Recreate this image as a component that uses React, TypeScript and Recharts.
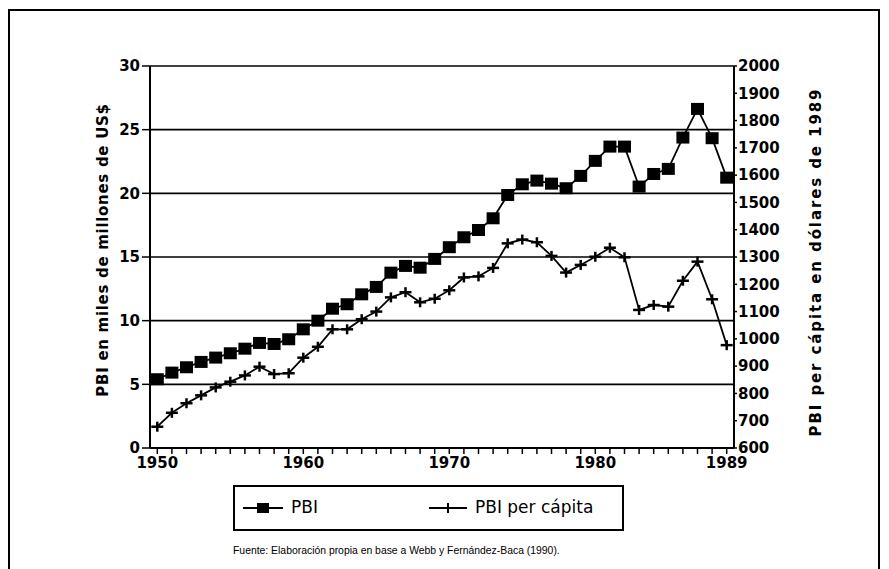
import React from 'react';
import { LineChart, Line, XAxis, YAxis, CartesianGrid } from 'recharts';

// years of the series
const years = [
  1950, 1951, 1952, 1953, 1954, 1955, 1956, 1957, 1958, 1959,
  1960, 1961, 1962, 1963, 1964, 1965, 1966, 1967, 1968, 1969,
  1970, 1971, 1972, 1973, 1974, 1975, 1976, 1977, 1978, 1979,
  1980, 1981, 1982, 1983, 1984, 1985, 1986, 1987, 1988, 1989,
];

// PBI, miles de millones de US$
const pbi = [
  5.4, 5.92, 6.34, 6.76, 7.1, 7.44, 7.8, 8.25, 8.17, 8.54,
  9.32, 10.0, 10.94, 11.29, 12.07, 12.65, 13.77, 14.3, 14.16, 14.85,
  15.77, 16.55, 17.12, 18.04, 19.87, 20.71, 21.0, 20.76, 20.4, 21.37,
  22.55, 23.67, 23.67, 20.53, 21.52, 21.92, 24.38, 26.63, 24.33, 21.23,
];

// PBI per capita, dolares de 1989
const perCapita = [
  678, 729, 764, 793, 822, 843, 866, 898, 871, 874,
  931, 971, 1035, 1035, 1072, 1100, 1152, 1171, 1134, 1147,
  1178, 1225, 1229, 1260, 1350, 1364, 1354, 1304, 1243, 1271,
  1301, 1334, 1299, 1106, 1124, 1118, 1213, 1283, 1145, 977,
];

const labelYears = [1950, 1960, 1970, 1980, 1989];
const leftTicks = [0, 5, 10, 15, 20, 25, 30];
const rightTicks = [600, 700, 800, 900, 1000, 1100, 1200, 1300, 1400, 1500, 1600, 1700, 1800, 1900, 2000];

const data = years.map((year, i) => ({ year, pbi: pbi[i], perCapita: perCapita[i] }));

const tickFont = { fontFamily: 'DejaVu Sans', fontWeight: 'bold', fontSize: 15, fill: '#000' };
const leftTitleFont = { fontFamily: 'DejaVu Sans', fontWeight: 'bold', fontSize: 15, fill: '#000', letterSpacing: 0.7 };
const rightTitleFont = { fontFamily: 'DejaVu Sans', fontWeight: 'bold', fontSize: 15, fill: '#000', letterSpacing: 1.9 };

const SquareDot = (props: any) => {
  const { cx, cy, index } = props;
  if (cx == null || cy == null) return <g key={'s' + index} />;
  return <rect key={'s' + index} x={cx - 6.5} y={cy - 6} width={13} height={12} fill="#000" />;
};

const PlusDot = (props: any) => {
  const { cx, cy, index } = props;
  if (cx == null || cy == null) return <g key={'p' + index} />;
  return (
    <g key={'p' + index}>
      <line x1={cx - 6} y1={cy} x2={cx + 6} y2={cy} stroke="#000" strokeWidth={2.5} />
      <line x1={cx} y1={cy - 5} x2={cx} y2={cy + 5} stroke="#000" strokeWidth={2.5} />
    </g>
  );
};

const App = () => {
  return (
    <div style={{ position: 'absolute', left: 0, top: 0, width: 889, height: 569, overflow: 'hidden', background: '#fff' }}>
      <div style={{ position: 'absolute', left: 8, top: 9, width: 872, height: 600, border: '2px solid #000', boxSizing: 'border-box' }} />
      <div style={{ position: 'absolute', left: 0, top: 0 }}>
        <LineChart width={889} height={569} data={data} margin={{ top: 66, right: 0, left: 0, bottom: 91 }}>
          <CartesianGrid yAxisId="left" horizontal vertical={false} stroke="#000" strokeWidth={1.6} strokeOpacity={1} />
          <XAxis
            dataKey="year"
            type="number"
            domain={[1949.5, 1989.5]}
            ticks={years}
            interval={0}
            height={30}
            tickSize={6}
            tickMargin={3}
            tickFormatter={(v: number) => (labelYears.includes(v) ? String(v) : '')}
            tick={tickFont}
            axisLine={{ stroke: '#000', strokeWidth: 2 }}
            tickLine={{ stroke: '#000', strokeWidth: 1.5 }}
          />
          <YAxis
            yAxisId="left"
            domain={[0, 30]}
            ticks={leftTicks}
            interval={0}
            width={150}
            tickSize={8}
            tickMargin={2}
            tick={tickFont}
            axisLine={{ stroke: '#000', strokeWidth: 2 }}
            tickLine={{ stroke: '#000', strokeWidth: 1.5 }}
            label={{ value: 'PBI en miles de millones de US$', angle: -90, position: 'center', dx: 28, dy: -7, style: leftTitleFont }}
          />
          <YAxis
            yAxisId="right"
            orientation="right"
            domain={[600, 2000]}
            ticks={rightTicks}
            interval={0}
            width={155}
            tickSize={3}
            tickMargin={1}
            tick={tickFont}
            axisLine={{ stroke: '#000', strokeWidth: 2 }}
            tickLine={{ stroke: '#000', strokeWidth: 1.5 }}
            label={{ value: 'PBI per cápita en dólares de 1989', angle: -90, position: 'center', dx: 4, dy: 5, style: rightTitleFont }}
          />
          <Line yAxisId="left" dataKey="pbi" stroke="#000" strokeWidth={1.8} dot={SquareDot} activeDot={false} isAnimationActive={false} />
          <Line yAxisId="right" dataKey="perCapita" stroke="#000" strokeWidth={1.8} dot={PlusDot} activeDot={false} isAnimationActive={false} />
        </LineChart>
      </div>
      <div style={{ position: 'absolute', left: 233, top: 485, width: 391, height: 46, border: '2px solid #000', boxSizing: 'border-box', fontFamily: 'DejaVu Sans', fontSize: 17, color: '#000' }}>
        <svg style={{ position: 'absolute', left: 8, top: 13 }} width={42} height={16}>
          <line x1={0} y1={8} x2={40} y2={8} stroke="#000" strokeWidth={1.8} />
          <rect x={14} y={3} width={12} height={10} fill="#000" />
        </svg>
        <span style={{ position: 'absolute', left: 56, top: 10 }}>PBI</span>
        <svg style={{ position: 'absolute', left: 194, top: 13 }} width={42} height={16}>
          <line x1={0} y1={8} x2={38} y2={8} stroke="#000" strokeWidth={1.8} />
          <line x1={19} y1={3} x2={19} y2={13} stroke="#000" strokeWidth={2} />
        </svg>
        <span style={{ position: 'absolute', left: 240, top: 10 }}>PBI per cápita</span>
      </div>
      <div style={{ position: 'absolute', left: 233, top: 545, fontFamily: 'Liberation Sans', fontSize: 10.4, color: '#000', whiteSpace: 'nowrap' }}>
        Fuente: Elaboración propia en base a Webb y Fernández-Baca (1990).
      </div>
    </div>
  );
};

export default App;
